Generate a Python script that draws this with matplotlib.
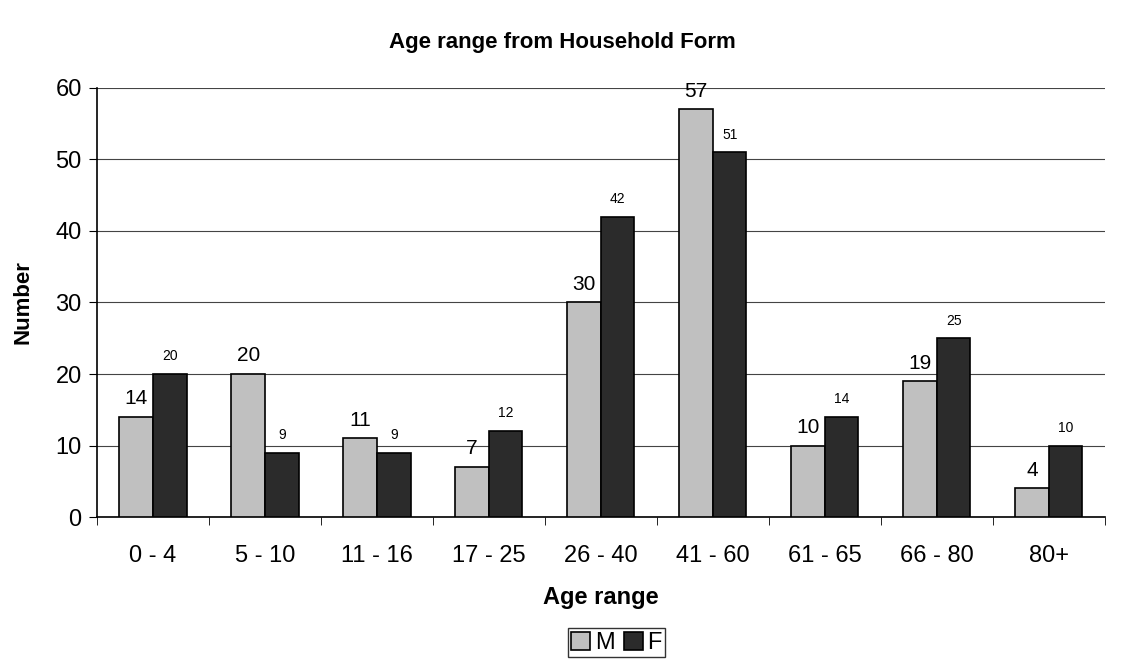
import numpy as np
import matplotlib.pyplot as plt

categories = ['0 - 4', '5 - 10', '11 - 16', '17 - 25', '26 - 40', '41 - 60', '61 - 65', '66 - 80', '80+']
male = [14, 20, 11, 7, 30, 57, 10, 19, 4]
female = [20, 9, 9, 12, 42, 51, 14, 25, 10]

plt.rcParams['font.family'] = ['Liberation Sans', 'DejaVu Sans']

fig = plt.figure(figsize=(11.25, 6.66), dpi=100)
ax = fig.add_axes([0.0862, 0.2237, 0.8958, 0.6442])

x = np.arange(len(categories))
w = 0.3
bm = ax.bar(x - w / 2, male, w, color='#c0c0c0', edgecolor='black', linewidth=1.2, label='M', zorder=3)
bf = ax.bar(x + w / 2, female, w, color='#2b2b2b', edgecolor='black', linewidth=1.2, label='F', zorder=3)

for xi, v in zip(x, male):
    ax.text(xi - w / 2, v + 1.2, str(v), ha='center', va='bottom', fontsize=15)
for xi, v in zip(x, female):
    ax.text(xi + w / 2, v + 1.5, str(v), ha='center', va='bottom', fontsize=10)

ax.set_xlim(-0.5, len(categories) - 0.5)
ax.set_ylim(0, 60)
ax.set_yticks(range(0, 61, 10))
ax.set_xticks(x)
ax.set_xticklabels(categories, fontsize=17)
ax.set_xticks(np.arange(-0.5, len(categories), 1), minor=True)
ax.tick_params(axis='x', which='major', length=0, pad=20)
ax.tick_params(axis='x', which='minor', length=6, direction='out')
ax.tick_params(axis='y', labelsize=17, length=6, direction='out', pad=5)
ax.yaxis.grid(True, color='#444444', linewidth=0.8, zorder=0)
ax.spines['top'].set_visible(False)
ax.spines['right'].set_visible(False)
ax.spines['left'].set_linewidth(1.2)
ax.spines['bottom'].set_linewidth(1.2)

ax.set_xlabel('Age range', fontsize=17, fontweight='bold', labelpad=14)
ax.set_ylabel('Number', fontsize=16, fontweight='bold', labelpad=16)
fig.suptitle('Age range from Household Form', fontsize=16, fontweight='bold', y=0.952)

fig.legend(handles=[bm, bf], loc='center', bbox_to_anchor=(0.548, 0.035), ncol=2,
           fontsize=17, frameon=True, fancybox=False, edgecolor='black',
           handlelength=0.8, handleheight=0.8, handletextpad=0.2, columnspacing=0.4,
           borderpad=0.15)

fig.savefig('out.png', dpi=100)
